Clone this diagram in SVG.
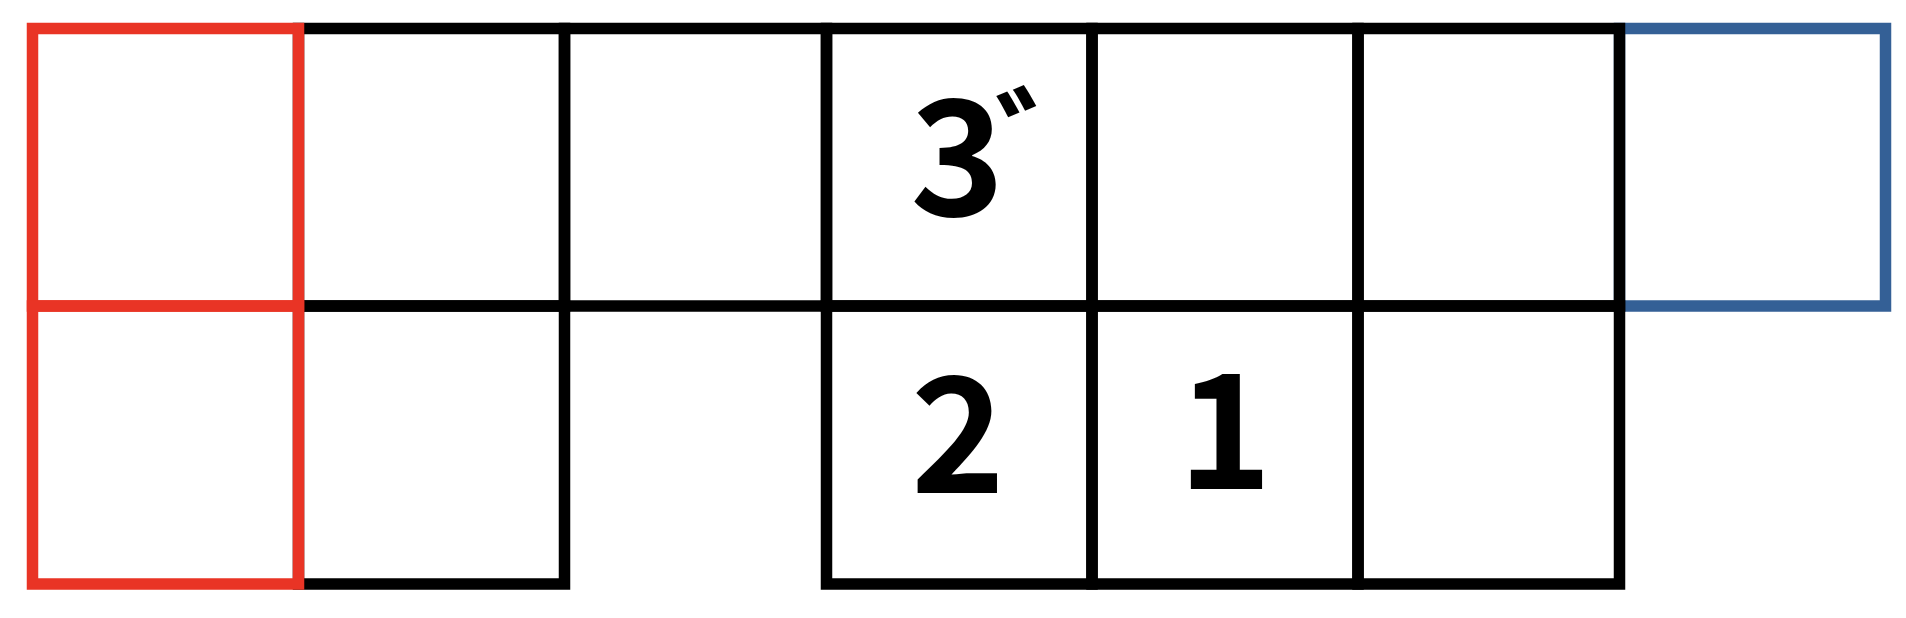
<svg xmlns="http://www.w3.org/2000/svg" width="1906" height="618" viewBox="0 0 1906 618">
<style>
.cell{fill:none;stroke-width:11.5;stroke-linejoin:miter}
.k{stroke:#000000}
.r{stroke:#E93425}
.b{stroke:#346096}
.num{font-family:"Noto Sans CJK JP","Noto Sans",sans-serif;font-weight:700;font-size:160px;fill:#000000}
</style>
<rect width="1906" height="618" fill="#ffffff"/>
<g id="cell-top-7"><rect class="cell b" x="1619.5" y="28.5" width="266" height="277.5"/></g>
<g id="cell-top-1"><rect class="cell k" x="298.5" y="28.5" width="266" height="277.5"/></g>
<g id="cell-top-2"><rect class="cell k" x="564.5" y="28.5" width="262" height="277.5"/></g>
<g id="cell-top-3"><rect class="cell k" x="826.5" y="28.5" width="265.5" height="277.5"/>
<text class="num" x="957.5" y="216" text-anchor="middle">3</text>
<text class="num" x="995" y="193.5" style="font-size:127px">゛</text></g>
<g id="cell-top-4"><rect class="cell k" x="1092" y="28.5" width="266" height="277.5"/></g>
<g id="cell-top-5"><rect class="cell k" x="1358" y="28.5" width="261.5" height="277.5"/></g>
<g id="cell-bot-1"><rect class="cell k" x="298.5" y="306" width="266" height="278"/></g>
<g id="cell-bot-3"><rect class="cell k" x="826.5" y="306" width="265.5" height="278"/>
<text class="num" x="958" y="493" text-anchor="middle">2</text></g>
<g id="cell-bot-4"><rect class="cell k" x="1092" y="306" width="266" height="278"/>
<text class="num" x="1225" y="489" text-anchor="middle">1</text></g>
<g id="cell-bot-5"><rect class="cell k" x="1358" y="306" width="261.5" height="278"/></g>
<g id="cell-top-0"><rect class="cell r" x="32.5" y="28.5" width="266" height="277.5"/></g>
<g id="cell-bot-0"><rect class="cell r" x="32.5" y="306" width="266" height="278"/></g>
<g id="connectors"></g>
</svg>
